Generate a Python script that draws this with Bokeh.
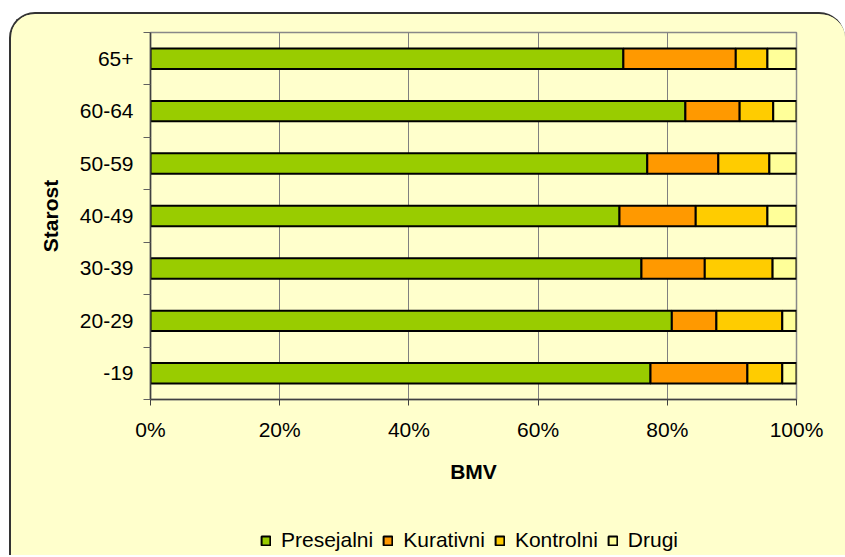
from bokeh.plotting import figure
from bokeh.layouts import column
from bokeh.models import (ColumnDataSource, Range1d, FixedTicker, PrintfTickFormatter,
                          Legend)
from bokeh.embed import file_html
from bokeh.resources import INLINE

# ---- data (percent shares, bottom to top) ----
ages = ["-19", "20-29", "30-39", "40-49", "50-59", "60-64", "65+"]
presejalni = [77.4, 80.7, 76.0, 72.6, 76.9, 82.8, 73.2]
kurativni = [15.0, 6.9, 9.8, 11.8, 11.0, 8.4, 17.4]
kontrolni = [5.4, 10.2, 10.5, 11.1, 7.9, 5.2, 4.9]
drugi = [2.2, 2.2, 3.7, 4.5, 4.2, 3.6, 4.5]
series = ["Presejalni", "Kurativni", "Kontrolni", "Drugi"]
colors = ["#99CC00", "#FF9900", "#FFCC00", "#FFFF99"]
x_ticks = [0, 20, 40, 60, 80, 100]

FONT = "Liberation Sans"
BG = "#FFFFCC"

ypos = [i + 0.5 for i in range(len(ages))]
source = ColumnDataSource(dict(y=ypos, Presejalni=presejalni, Kurativni=kurativni,
                               Kontrolni=kontrolni, Drugi=drugi))

p = figure(frame_width=646, frame_height=367, output_backend="svg", toolbar_location=None,
           x_range=Range1d(0, 100), y_range=Range1d(0, len(ages)),
           background_fill_color=BG, border_fill_color=BG,
           min_border_left=139, min_border_top=18, min_border_right=49,
           min_border_bottom=100)

renderers = p.hbar_stack(series, y="y", height=0.39, color=colors, source=source,
                         line_color="black", line_width=2)

# outline
p.outline_line_color = "#888888"
p.outline_line_width = 1.5

# grid
p.ygrid.grid_line_color = None
p.xgrid.grid_line_color = "#808080"
p.xgrid.grid_line_width = 1
p.xgrid.ticker = FixedTicker(ticks=x_ticks)

# x axis
xa = p.xaxis[0]
xa.ticker = FixedTicker(ticks=x_ticks)
xa.formatter = PrintfTickFormatter(format="%d%%")
xa.axis_label = "BMV"
xa.axis_line_color = "#404040"
xa.axis_line_width = 1.5
xa.major_tick_line_color = "#404040"
xa.major_tick_out = 6
xa.major_tick_in = 0
xa.minor_tick_line_color = None
xa.major_label_standoff = 12
xa.major_label_text_font = FONT
xa.major_label_text_font_size = "21px"
xa.major_label_text_color = "black"
xa.axis_label_text_font = FONT
xa.axis_label_text_font_size = "21px"
xa.axis_label_text_font_style = "bold"
xa.axis_label_text_color = "black"
xa.axis_label_standoff = 16

# y axis
ya = p.yaxis[0]
ya.ticker = FixedTicker(ticks=ypos, minor_ticks=list(range(len(ages) + 1)))
ya.major_label_overrides = {y: a for y, a in zip(ypos, ages)}
ya.axis_label = "Starost"
ya.axis_line_color = "#404040"
ya.axis_line_width = 1.5
ya.major_tick_out = 0
ya.major_tick_in = 0
ya.major_tick_line_color = None
ya.minor_tick_line_color = "#606060"
ya.minor_tick_out = 7
ya.minor_tick_in = 0
ya.major_label_standoff = 10
ya.major_label_text_font = FONT
ya.major_label_text_font_size = "21px"
ya.major_label_text_color = "black"
ya.axis_label_text_font = FONT
ya.axis_label_text_font_size = "21px"
ya.axis_label_text_font_style = "bold"
ya.axis_label_text_color = "black"
ya.axis_label_standoff = 15

# legend strip: a small figure (frame aligned with the main one) holding
# hidden copies of the series, used only for their legend swatches
p2 = figure(width=834, height=56, output_backend="svg", toolbar_location=None,
            x_range=p.x_range, y_range=Range1d(-10, -9),
            background_fill_color=BG, border_fill_color=BG,
            min_border_left=0, min_border_right=0, min_border_top=0, min_border_bottom=0)
p2.axis.visible = False
p2.grid.grid_line_color = None
p2.outline_line_color = None
swatches = p2.hbar_stack(series, y="y", height=0.39, color=colors, source=source,
                         line_color="black", line_width=2)
for r in swatches:
    r.visible = False
legend = Legend(items=[(s, [r]) for s, r in zip(series, swatches)],
                orientation="horizontal", location=(110, 3))
legend.label_text_font = FONT
legend.label_text_font_size = "21px"
legend.label_text_color = "black"
legend.glyph_width = 11
legend.glyph_height = 11
legend.label_standoff = 10
legend.spacing = 9
legend.padding = 0
legend.margin = 0
legend.background_fill_alpha = 0
legend.border_line_color = None
legend.inactive_fill_alpha = 0
p2.add_layout(legend)

layout = column(p, p2, spacing=0)
layout.margin = (12, 0, 0, 9)
layout.styles = {"border-top": "2px solid #333333", "border-left": "2px solid #333333",
                 "border-top-left-radius": "26px", "border-top-right-radius": "26px",
                 "overflow": "hidden", "background-color": BG}

open("out.html", "w").write(file_html(layout, INLINE))
